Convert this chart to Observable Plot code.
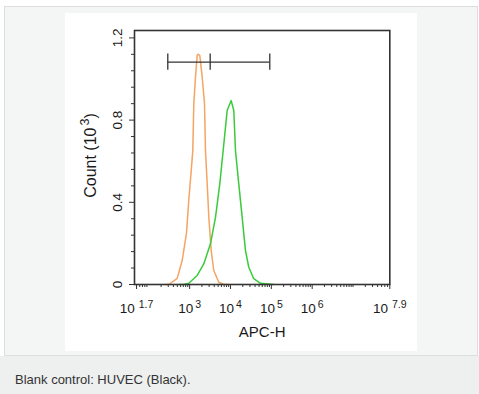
<!DOCTYPE html>
<html>
<head>
<meta charset="utf-8">
<script src="https://cdn.jsdelivr.net/npm/d3@7"></script>
<script src="https://cdn.jsdelivr.net/npm/@observablehq/plot@0.6"></script>
<style>
  html, body { margin: 0; padding: 0; }
  body { width: 479px; height: 394px; position: relative; overflow: hidden; background: #ffffff;
         font-family: "Liberation Sans", Arial, sans-serif; }
  #box { position: absolute; left: 4px; top: 6px; width: 472px; height: 348px;
         border: 1px solid #dcdddd; background: #f4f5f5; }
  #panel { position: absolute; left: 65px; top: 13px; width: 352px; height: 338px; background: #ffffff; }
  #caption { position: absolute; left: 0; top: 356px; width: 479px; height: 38px; background: #eeefef; }
  #caption span { position: absolute; left: 15px; top: 16px; font-size: 13px; color: #333; line-height: 15px; }
</style>
</head>
<body>
<div id="box"></div>
<div id="panel"></div>
<div id="caption"><span>Blank control: HUVEC (Black).</span></div>
<script>
// ---- data (log10 of APC-H, count in 10^3) ----
const orangeLog   = [2.40, 2.49, 2.695, 2.818, 2.923, 2.979, 3.045, 3.077, 3.102, 3.143, 3.185, 3.209, 3.248, 3.307, 3.364, 3.388, 3.430, 3.469, 3.528, 3.591, 3.714, 3.836, 3.95];
const orangeCount = [0,    0,    0.03,  0.117, 0.25,  0.41,  0.57,  0.65,  0.88,  1.01,  1.115, 1.12,  1.115, 1.01,  0.88,  0.65,  0.49,  0.33,  0.165, 0.068, 0.011, 0,     0];
const greenLog    = [2.75, 2.857, 2.979, 3.185, 3.346, 3.510, 3.633, 3.738, 3.821, 3.919, 4.017, 4.081, 4.122, 4.203, 4.286, 4.367, 4.448, 4.570, 4.734, 5.060];
const greenCount  = [0,    0,     0.006, 0.044, 0.10,  0.198, 0.327, 0.49,  0.652, 0.847, 0.895, 0.847, 0.652, 0.49,  0.327, 0.165, 0.084, 0.028, 0.006, 0];
const gateLog     = [2.465, 3.503, 4.962];   // gate start, split, end
const gateLevel   = 1.082;
const gateHalf    = 0.04;
const xTickExp    = [1.7, 3, 4, 5, 6, 7.9];
const xTickLabels = ["10^1.7", "10^3", "10^4", "10^5", "10^6", "10^7.9"];
const yTicks      = [0, 0.4, 0.8, 1.2];
const yTickLabels = ["0", "0.4", "0.8", "1.2"];
const yMinor      = [0.08, 0.16, 0.24, 0.32, 0.48, 0.56, 0.64, 0.72, 0.88, 0.96, 1.04, 1.12];
const xTitle = "APC-H";
const yTitle = "Count (10^3)";

const orange = orangeLog.map((l, i) => ({x: 10 ** l, y: orangeCount[i]}));
const green  = greenLog.map((l, i) => ({x: 10 ** l, y: greenCount[i]}));
const gate   = gateLog.map(l => ({x: 10 ** l, y1: gateLevel - gateHalf, y2: gateLevel + gateHalf}));
const xMajor = xTickExp.map(e => 10 ** e);
const xMinor = [];
for (let k = 1; k <= 7; k++) for (let m = 2; m <= 9; m++) {
  const v = m * 10 ** k;
  if (v > 10 ** 1.65 && v < 10 ** 7.89) xMinor.push(v);
}
xMinor.push(1e7);

const chart = Plot.plot({
  width: 352, height: 338,
  marginLeft: 69, marginRight: 27.7, marginTop: 17, marginBottom: 67,
  style: {background: "transparent", fontFamily: "'Liberation Sans', Arial, sans-serif", fontSize: "13.5px", color: "#1a1a1a"},
  x: {type: "log", domain: [10 ** 1.65, 10 ** 7.9 * 1.001]},
  y: {domain: [0, 1.236]},
  marks: [
    Plot.axisX(xMinor, {tickSize: 3, tickFormat: () => "", label: null, stroke: "#333"}),
    Plot.axisX(xMajor, {tickSize: 5, tickFormat: () => "", label: null, stroke: "#333"}),
    Plot.text(xMajor, {x: d => d, frameAnchor: "bottom", text: (d, i) => xTickLabels[i], dy: 24, textAnchor: "middle", lineAnchor: "middle", fontSize: 13.5, fill: "#1a1a1a"}),
    Plot.axisY(yMinor, {tickSize: 3, tickFormat: () => "", label: null, stroke: "#333"}),
    Plot.axisY(yTicks, {tickSize: 5, tickFormat: () => "", label: null, stroke: "#333"}),
    Plot.text(yTicks, {frameAnchor: "left", y: d => d, text: (d, i) => yTickLabels[i], rotate: -90, dx: -17, textAnchor: "middle", lineAnchor: "middle", fontSize: 13.5, fill: "#1a1a1a"}),
    Plot.text([xTitle], {frameAnchor: "bottom", text: d => d, dy: 47.5, textAnchor: "middle", lineAnchor: "middle", fontSize: 15, fill: "#1a1a1a"}),
    Plot.text([yTitle], {frameAnchor: "left", text: d => d, rotate: -90, dx: -44, dy: -2, textAnchor: "middle", lineAnchor: "middle", fontSize: 16, fill: "#1a1a1a"}),
    Plot.line(orange, {x: "x", y: "y", stroke: "#f4a463", strokeWidth: 1.5}),
    Plot.line(green, {x: "x", y: "y", stroke: "#3acb3a", strokeWidth: 1.5}),
    Plot.ruleY([gateLevel], {x1: 10 ** gateLog[0], x2: 10 ** gateLog[2], stroke: "#333", strokeWidth: 1.3}),
    Plot.ruleX(gate, {x: "x", y1: "y1", y2: "y2", stroke: "#333", strokeWidth: 1.3}),
    Plot.frame({stroke: "#333", strokeWidth: 1.6})
  ]
});

// superscripts: "10^3" -> 10 with raised exponent
d3.select(chart).selectAll("text").each(function () {
  const t = this.textContent;
  if (!t.includes("^")) return;
  const m = t.match(/^(.*?)10\^([0-9.]+)(.*)$/);
  if (!m) return;
  const sel = d3.select(this);
  sel.selectAll("*").remove();
  sel.text(null);
  sel.append("tspan").text(m[1] + "10");
  sel.append("tspan").attr("dy", "-0.5em").attr("dx", m[2].includes(".") ? 4 : 2).attr("font-size", "0.78em").text(m[2]);
  if (m[3]) sel.append("tspan").attr("dy", "0.39em").text(m[3]);
});

document.getElementById("panel").appendChild(chart);
</script>
</body>
</html>
